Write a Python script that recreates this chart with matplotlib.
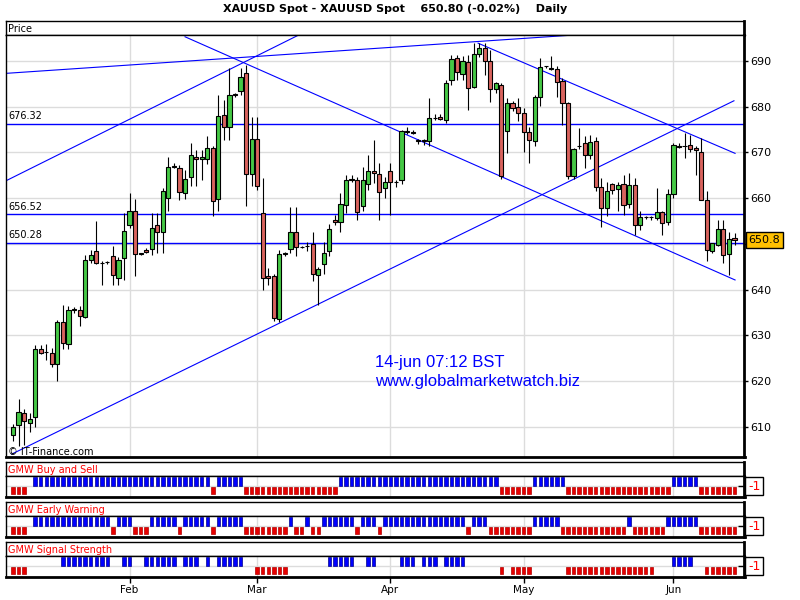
import matplotlib
matplotlib.use('Agg')
import matplotlib.pyplot as plt

# daily OHLC, one entry per bar
opens = [608.2, 610.4, 613.1, 610.9, 612.2, 626.9, 626.3, 626.2, 623.8, 633.0,
         628.1, 635.6, 635.6, 634.0, 646.4, 648.5, 645.8, 646.0, 647.3, 642.6,
         646.9, 654.2, 657.2, 647.8, 648.7, 648.9, 654.2, 652.6, 660.0, 666.9,
         666.6, 661.1, 664.6, 669.1, 668.6, 668.5, 671.0, 659.8, 678.2, 675.5,
         682.6, 683.4, 687.3, 665.3, 673.0, 656.7, 643.0, 642.9, 633.5, 647.8,
         648.9, 652.5, 649.3, 649.5, 650.0, 643.1, 645.5, 648.4, 655.3, 654.8,
         658.6, 664.0, 663.9, 658.3, 663.1, 666.0, 665.3, 662.2, 666.0, 663.5,
         664.0, 674.5, 674.4, 672.7, 672.8, 672.4, 677.5, 677.8, 677.0, 685.8,
         690.6, 687.2, 689.7, 684.3, 691.5, 692.9, 690.0, 683.8, 684.8, 674.6,
         680.9, 680.0, 678.6, 674.4, 672.4, 682.1, 688.8, 688.3, 688.3, 685.6,
         680.8, 664.9, 671.4, 672.0, 669.5, 672.4, 662.4, 657.8, 663.1, 662.0,
         663.1, 658.7, 662.9, 654.2, 655.8, 655.8, 655.7, 656.9, 654.7, 660.8,
         671.5, 671.3, 671.7, 670.9, 670.2, 659.7, 648.4, 649.8, 653.3, 647.8,
         651.3]
highs = [610.5, 616.0, 613.8, 613.0, 627.8, 627.8, 628.2, 627.3, 633.4, 636.7,
         636.4, 636.2, 636.4, 647.6, 648.6, 654.9, 646.2, 646.3, 649.5, 647.2,
         656.8, 661.1, 659.9, 648.0, 649.1, 656.8, 656.8, 662.2, 669.1, 667.6,
         667.3, 666.2, 672.1, 670.6, 670.5, 673.5, 671.5, 682.6, 681.5, 688.4,
         683.0, 688.4, 689.1, 677.8, 677.8, 664.4, 644.8, 643.5, 648.7, 648.3,
         658.0, 658.0, 649.5, 650.5, 652.7, 645.0, 650.3, 654.4, 656.4, 661.1,
         665.1, 665.1, 664.7, 666.9, 669.5, 672.7, 667.7, 664.7, 667.7, 664.0,
         675.0, 675.5, 674.8, 673.0, 673.0, 681.9, 678.5, 678.5, 685.9, 691.3,
         691.3, 691.1, 691.3, 693.9, 693.9, 693.9, 692.4, 685.5, 685.1, 681.9,
         681.2, 681.9, 679.8, 675.5, 682.6, 690.6, 689.0, 691.0, 688.8, 686.2,
         681.0, 671.0, 675.3, 673.5, 673.8, 673.3, 664.5, 663.6, 663.4, 663.6,
         665.1, 665.5, 664.4, 657.1, 656.0, 656.1, 662.2, 657.1, 662.0, 672.0,
         672.0, 674.2, 673.8, 671.5, 673.2, 661.5, 650.2, 655.3, 655.3, 652.7,
         652.4]
lows = [606.9, 605.8, 606.0, 608.8, 610.0, 626.0, 624.7, 623.0, 620.0, 626.9,
        627.0, 634.8, 632.0, 633.8, 645.8, 645.5, 641.0, 645.6, 641.0, 641.0,
        642.2, 653.5, 643.0, 647.5, 647.9, 647.5, 647.9, 648.0, 657.1, 666.5,
        659.7, 659.8, 662.6, 662.7, 664.0, 667.5, 656.0, 657.1, 672.7, 672.7,
        682.2, 682.6, 658.2, 662.6, 661.8, 640.0, 640.9, 633.1, 632.8, 647.3,
        648.0, 647.4, 649.0, 648.5, 641.8, 636.7, 643.3, 647.4, 654.2, 652.5,
        656.7, 663.5, 655.3, 657.1, 661.8, 663.3, 655.3, 660.0, 656.4, 662.5,
        663.0, 674.0, 674.0, 671.9, 671.6, 671.3, 677.0, 677.0, 676.5, 684.8,
        685.9, 685.9, 679.3, 684.0, 690.9, 686.9, 681.1, 683.0, 664.2, 669.9,
        679.0, 676.8, 670.0, 667.7, 671.4, 680.2, 688.5, 688.0, 682.2, 676.0,
        664.2, 664.2, 670.8, 666.6, 668.5, 661.5, 653.7, 656.0, 661.0, 657.1,
        656.4, 657.8, 652.0, 653.0, 655.5, 655.3, 655.3, 652.0, 654.2, 660.0,
        670.9, 668.8, 670.0, 665.1, 659.5, 646.2, 648.1, 649.5, 645.8, 643.1,
        649.8]
closes = [610.0, 613.3, 611.3, 611.6, 627.0, 626.2, 626.3, 623.8, 633.0, 628.4,
          635.6, 635.6, 634.2, 646.5, 647.6, 645.8, 645.9, 646.0, 643.1, 646.5,
          652.9, 657.1, 647.8, 647.8, 648.2, 653.5, 652.5, 661.6, 666.9, 666.9,
          661.3, 664.2, 669.5, 668.6, 669.1, 671.0, 659.3, 678.0, 675.5, 682.6,
          682.6, 686.6, 665.3, 673.0, 662.7, 642.6, 642.6, 633.7, 647.8, 647.8,
          652.5, 649.3, 649.3, 649.5, 643.3, 644.6, 648.0, 653.3, 654.8, 658.8,
          664.0, 664.0, 657.0, 664.0, 666.0, 665.5, 661.3, 663.5, 663.5, 663.5,
          674.6, 674.5, 674.3, 672.4, 672.4, 677.5, 677.5, 677.3, 685.1, 690.4,
          687.5, 690.0, 684.0, 691.5, 692.8, 690.1, 683.8, 685.1, 664.9, 680.8,
          679.7, 678.7, 674.4, 672.8, 682.2, 688.6, 688.8, 688.3, 685.5, 680.8,
          664.9, 670.8, 671.4, 669.5, 672.3, 662.4, 657.8, 661.5, 661.7, 662.8,
          658.6, 662.9, 654.2, 655.8, 655.8, 655.8, 656.9, 654.6, 660.9, 671.7,
          671.1, 671.3, 670.8, 670.6, 659.7, 648.7, 650.2, 653.3, 647.6, 651.1,
          650.8]

# indicator states per bar: 1 = buy (blue), -1 = sell (red), 0 = none
buy_sell = [-1, -1, -1, 0, 1, 1, 1, 1, 1, 1,
            1, 1, 1, 1, 1, 1, 1, 1, 1, 1,
            1, 1, 1, 1, 1, 1, 1, 1, 1, 1,
            1, 1, 1, 1, 1, 1, -1, 1, 1, 1,
            1, 1, -1, -1, -1, -1, -1, -1, -1, -1,
            -1, -1, -1, -1, -1, -1, -1, -1, -1, 1,
            1, 1, 1, 1, 1, 1, 1, 1, 1, 1,
            1, 1, 1, 1, 1, 1, 1, 1, 1, 1,
            1, 1, 1, 1, 1, 1, 1, 1, -1, -1,
            -1, -1, -1, -1, 1, 1, 1, 1, 1, 1,
            -1, -1, -1, -1, -1, -1, -1, -1, -1, -1,
            -1, -1, -1, -1, -1, -1, -1, -1, -1, 1,
            1, 1, 1, 1, -1, -1, -1, -1, -1, -1,
            -1]
early_warning = [-1, -1, -1, 0, 1, 1, 1, 1, 1, 1,
                 1, 1, 1, 1, 1, 1, 1, 1, -1, 1,
                 1, 1, -1, -1, -1, 1, 1, 1, 1, 1,
                 -1, 1, 1, 1, 1, 1, -1, 1, 1, 1,
                 1, 1, -1, -1, -1, -1, -1, -1, -1, -1,
                 1, -1, -1, 1, -1, -1, 1, 1, 1, 1,
                 1, 1, -1, 1, 1, 1, -1, 1, 1, 1,
                 1, 1, 1, 1, 1, 1, 1, 1, 1, 1,
                 1, 1, -1, 1, 1, 1, -1, -1, -1, -1,
                 -1, -1, -1, -1, 1, 1, 1, 1, 1, -1,
                 -1, -1, -1, -1, -1, -1, -1, -1, -1, -1,
                 -1, 1, -1, -1, -1, -1, -1, -1, 1, 1,
                 1, 1, 1, 1, -1, -1, -1, -1, -1, -1,
                 -1]
signal_strength = [-1, -1, -1, 0, 0, 0, 0, 0, 0, 1,
                   1, 1, 1, 1, 1, 1, 1, 1, 0, 0,
                   1, 1, 0, 0, 1, 1, 1, 1, 1, 1,
                   0, 1, 1, 1, 0, 1, 0, 1, 1, 1,
                   1, 1, 0, 0, -1, -1, -1, -1, -1, -1,
                   0, 0, 0, 0, 0, 0, 0, 1, 1, 1,
                   1, 1, 0, 0, 1, 1, 0, 0, 0, 0,
                   1, 1, 1, 0, 1, 1, 1, 0, 1, 1,
                   1, 1, 0, 0, 0, 0, 0, 0, -1, 0,
                   -1, -1, -1, -1, 0, 0, 0, 0, 0, 0,
                   -1, -1, -1, -1, -1, -1, -1, -1, -1, -1,
                   -1, -1, -1, -1, -1, -1, 0, 0, 0, 1,
                   1, 1, 1, 0, 0, -1, -1, -1, -1, -1,
                   -1]

month_pos = [21, 44, 68, 92, 119]
month_labels = ['Feb', 'Mar', 'Apr', 'May', 'Jun']
price_ticks = [610, 620, 630, 640, 650, 660, 670, 680, 690]

levels = [676.32, 656.52, 650.28]
level_labels = ['676.32', '656.52', '650.28']

# trend lines: (bar0, price0, bar1, price1)
trend_lines = [(-1.26, 687.3, 100.0, 695.6),
               (-1.26, 663.8, 51.5, 695.7),
               (31.0, 695.3, 130.1, 642.1),
               (83.8, 693.9, 130.1, 669.8),
               (-0.23, 604.0, 129.9, 681.3)]

last_price = 650.8
title = 'XAUUSD Spot - XAUUSD Spot    650.80 (-0.02%)    Daily'

W, H = 800, 600
L, R = 6, 744.5
xlim = (-1.26, 131.8)


def box(left, top, right, bottom):
    return [left / W, 1 - bottom / H, (right - left) / W, (bottom - top) / H]


def frame(a):
    a.spines['left'].set_linewidth(1)
    a.spines['top'].set_linewidth(1)
    a.spines['right'].set_linewidth(2)
    a.spines['bottom'].set_linewidth(2)


def header(top, bottom, label, color):
    hx = fig.add_axes(box(L, top, R, bottom))
    hx.set_xticks([])
    hx.set_yticks([])
    frame(hx)
    hx.spines['bottom'].set_linewidth(1)
    hx.text(0.003, 0.45, label, transform=hx.transAxes, va='center', ha='left',
            fontsize=7, color=color)
    return hx


fig = plt.figure(figsize=(8, 6), dpi=100)
fig.patch.set_facecolor('white')

fig.text(395 / W, 1 - 9.5 / H, title, ha='center', va='center', fontsize=8, fontweight='bold')

# price panel
header(21.3, 35, 'Price', 'black')
ax = fig.add_axes(box(L, 35, R, 456.5))
ax.set_xlim(*xlim)
ax.set_ylim(603.48, 695.69)
frame(ax)
ax.set_axisbelow(True)
ax.grid(True, color='#dcdcdc', lw=1)
ax.set_xticks(month_pos)
ax.tick_params(axis='x', length=0, labelbottom=False)
ax.yaxis.tick_right()
ax.set_yticks(price_ticks)
# the 650 label sits under the last-price box
ax.set_yticklabels(['' if abs(t - last_price) < 3 else str(t) for t in price_ticks])
ax.tick_params(axis='y', direction='out', length=3, width=1, pad=1, labelsize=8)

xs = list(range(len(opens)))
for x0, y0, x1, y1 in trend_lines:
    ax.plot([x0, x1], [y0, y1], color='#0000ff', lw=0.8, zorder=2)
for lv, lab in zip(levels, level_labels):
    ax.axhline(lv, color='#0000ff', lw=1.0, zorder=2)
    ax.annotate(lab, xy=(0, lv), xycoords=('axes fraction', 'data'), xytext=(1.5, 1.5),
                textcoords='offset points', fontsize=7, va='bottom', ha='left')

ax.vlines(xs, lows, highs, color='black', lw=0.8, zorder=3)
bottoms = [min(o, c) for o, c in zip(opens, closes)]
heights = [max(abs(c - o), 0.1) for o, c in zip(opens, closes)]
colors = ['#45c845' if c >= o else '#d9635e' for o, c in zip(opens, closes)]
ax.bar(xs, heights, bottom=bottoms, width=0.75, color=colors, edgecolor='black',
       linewidth=0.8, zorder=4)

ax.annotate('%.1f' % last_price, xy=(1, last_price), xycoords=('axes fraction', 'data'),
            xytext=(3, 0), textcoords='offset points', fontsize=8, va='center', ha='left',
            bbox=dict(boxstyle='square,pad=0.25', fc='#ffc000', ec='black', lw=1),
            annotation_clip=False)

fig.text(375 / W, 1 - 367 / H, '14-jun 07:12 BST', color='#0000ff', fontsize=12,
         family='Liberation Sans', va='baseline')
fig.text(375 / W, 1 - 386 / H, 'www.globalmarketwatch.biz', color='#0000ff', fontsize=12,
         family='Liberation Sans', va='baseline')
fig.text(8 / W, 1 - 455 / H, '\u00a9 IT-Finance.com', fontsize=7, va='baseline')

# indicator panels
panels = [('GMW Buy and Sell', buy_sell, 462.3),
          ('GMW Early Warning', early_warning, 502.3),
          ('GMW Signal Strength', signal_strength, 542.3)]
for n, (name, vals, top) in enumerate(panels):
    header(top, top + 14, name, '#ff0000')
    ix = fig.add_axes(box(L, top + 14, R, top + 34.5))
    ix.set_xlim(*xlim)
    ix.set_ylim(-1.03, 1.0)
    frame(ix)
    ix.set_axisbelow(True)
    ix.grid(True, color='#dcdcdc', lw=1)
    up = [i for i, v in enumerate(vals) if v > 0]
    dn = [i for i, v in enumerate(vals) if v < 0]
    ix.bar(up, 0.85, bottom=0.08, width=0.62, color='#0000ff', edgecolor='#00008b', lw=0.5, zorder=3)
    ix.bar(dn, -0.68, bottom=-0.08, width=0.62, color='#e60000', edgecolor='#b00000', lw=0.5, zorder=3)
    ix.yaxis.tick_right()
    ix.set_yticks([0])
    ix.set_yticklabels([])
    ix.tick_params(axis='y', direction='in', length=4, width=1)
    ix.set_xticks(month_pos)
    if n == 2:
        ix.set_xticklabels(month_labels)
        ix.tick_params(axis='x', direction='out', length=4, width=1, labelsize=7.5, pad=2)
    else:
        ix.tick_params(axis='x', length=0, labelbottom=False)
    ix.annotate('-1', xy=(1, 0), xycoords=('axes fraction', 'data'), xytext=(2.5, 0),
                textcoords='offset points', fontsize=9, color='#ff0000', va='center', ha='left',
                bbox=dict(boxstyle='square,pad=0.2', fc='white', ec='black', lw=1),
                annotation_clip=False)

fig.savefig('out.png', dpi=100)
